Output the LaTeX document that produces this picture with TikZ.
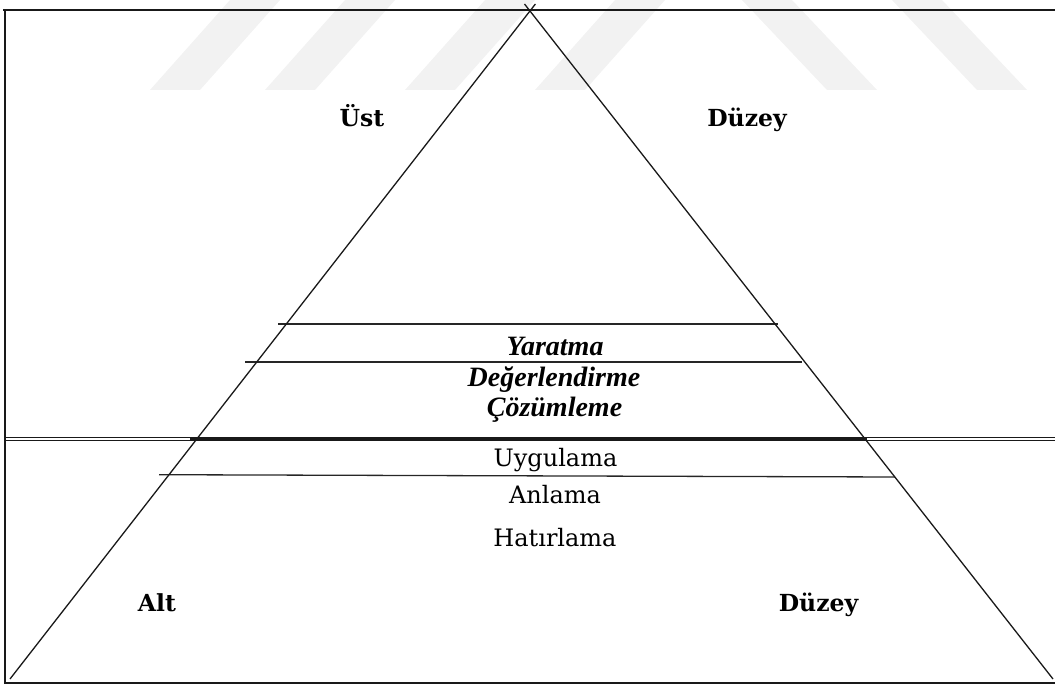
\documentclass[tikz,border=0pt]{standalone}
\usepackage{fontspec}
\setmainfont{DejaVu Serif}
\newfontfamily\timesfont{Liberation Serif}
\begin{document}
\begin{tikzpicture}[x=1pt,y=-1pt,
  framerule/.style={line width=1.6pt, draw=black!90},
  sideline/.style={line width=1.3pt, draw=black!90},
  tierline/.style={line width=1.3pt, draw=black!85},
  thinrule/.style={line width=0.9pt, draw=black!90},
  levellabel/.style={font=\fontsize{23.5}{28}\selectfont\bfseries, anchor=base, inner sep=0pt},
  upperlabel/.style={font=\timesfont\fontsize{28}{32}\selectfont\bfseries\itshape, anchor=base, inner sep=0pt},
  lowerlabel/.style={font=\fontsize{24}{28}\selectfont, anchor=base, inner sep=0pt},
  watermark/.style={fill=black!5, draw=none}]
\useasboundingbox (0,0) rectangle (1055,684);

% faint watermark bands along the top edge
\foreach \b in {150,265,405,535}
  \fill[watermark] (\b,90) -- (\b+50,90) -- (\b+130,0) -- (\b+80,0) -- cycle;
\foreach \b in {827,977}
  \fill[watermark] (\b,90) -- (\b+50,90) -- (\b-35,0) -- (\b-85,0) -- cycle;

% outer frame
\coordinate (ftl) at (3,10);
\coordinate (ftr) at (1055,10);
\coordinate (fl) at (5,10);
\coordinate (fbl) at (5,683);
\coordinate (fbr) at (1055,683);
\draw[framerule] (ftl) -- (ftr);
\draw[framerule] (fl) -- (fbl) -- (fbr);

% dividing double rule between upper and lower levels
\coordinate (d1l) at (5,437.5);   \coordinate (d1r) at (1055,437.5);
\coordinate (d2l) at (5,440.5);   \coordinate (d2r) at (1055,440.5);
\draw[thinrule] (d1l) -- (d1r);
\draw[thinrule] (d2l) -- (d2r);
\coordinate (dtl) at (190,438.6); \coordinate (dtr) at (867,438.6);
\draw[line width=3pt, draw=black!90] (dtl) -- (dtr);

% tier lines inside the pyramid
\coordinate (t1l) at (278,324);   \coordinate (t1r) at (778,324);
\coordinate (t2l) at (245,362);   \coordinate (t2r) at (802,362);
\coordinate (t4l) at (159,474.7); \coordinate (t4r) at (895,477);
\draw[tierline] (t1l) -- (t1r);
\draw[tierline] (t2l) -- (t2r);
\draw[tierline] (t4l) -- (t4r);

% pyramid sides, crossing just above the apex
\coordinate (bl) at (10,679);
\coordinate (lt) at (535.4,4);
\coordinate (br) at (1053,679);
\coordinate (rt) at (524.5,4);
\draw[sideline] (bl) -- (lt);
\draw[sideline] (br) -- (rt);

% level labels
\node[levellabel] (ust)   at (362,127)   {Üst};
\node[levellabel] (duzu)  at (747,127)   {Düzey};
\node[levellabel] (alt)   at (157,611.5) {Alt};
\node[levellabel] (duza)  at (818.5,611.5) {Düzey};

% upper-level steps
\node[upperlabel] (yar) at (555,356)   {Yaratma};
\node[upperlabel] (deg) at (554,387)   {Değerlendirme};
\node[upperlabel] (coz) at (554.5,416.5) {Çözümleme};

% lower-level steps
\node[lowerlabel] (uyg) at (555.5,466.5) {Uygulama};
\node[lowerlabel] (anl) at (555,503)   {Anlama};
\node[lowerlabel] (hat) at (555,546)   {Hatırlama};
\end{tikzpicture}
\end{document}
